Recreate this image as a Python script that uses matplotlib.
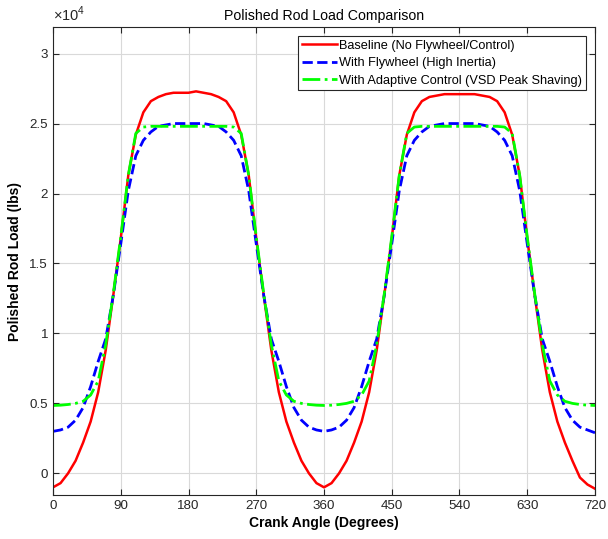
import numpy as np
import matplotlib.pyplot as plt
from matplotlib.ticker import FuncFormatter, MultipleLocator

plt.rcParams['font.family'] = ['Liberation Sans', 'DejaVu Sans']
plt.rcParams['mathtext.fontset'] = 'custom'
plt.rcParams['mathtext.rm'] = 'Liberation Sans'

# crank angle, degrees (10 deg steps over two strokes)
angle = np.arange(0, 721, 10)

# polished rod load, lbs
baseline = [-1000, -700, 0, 900, 2200, 3700, 5800, 8800, 12700, 16800,        # 0-90
            21300, 24200, 25800, 26600, 26900, 27100, 27200, 27200, 27200,    # 100-180
            27300, 27200, 27100, 26900, 26600, 25800, 24200, 21300, 16800,    # 190-270
            12700, 8800, 5800, 3700, 2200, 900, 0, -700, -1000,               # 280-360
            -700, 0, 900, 2200, 3700, 5800, 8800, 12700, 16800,               # 370-450
            21300, 24200, 25800, 26600, 26900, 27000, 27100, 27100, 27100,    # 460-540
            27100, 27100, 27000, 26900, 26600, 25800, 24200, 21300, 16800,    # 550-630
            12700, 8800, 5800, 3700, 2200, 900, -300, -800, -1100]            # 640-720

flywheel = [3000, 3100, 3300, 3800, 4700, 6200, 8000, 9600, 12700, 16400,
            20200, 22700, 23800, 24400, 24800, 24900, 25000, 25000, 25000,
            25000, 25000, 24900, 24800, 24400, 23800, 22700, 20200, 16400,
            12700, 9600, 8000, 6200, 4700, 3800, 3300, 3100, 3000,
            3100, 3300, 3800, 4700, 6200, 8000, 9600, 12700, 16400,
            20200, 22700, 23800, 24400, 24800, 24900, 25000, 25000, 25000,
            25000, 25000, 24900, 24800, 24400, 23800, 22700, 20200, 16400,
            12700, 9600, 8000, 6200, 4700, 3800, 3300, 3100, 2900]

adaptive = [4850, 4870, 4920, 5000, 5150, 5600, 6600, 9200, 12800, 16900,
            21300, 24300, 24750, 24800, 24800, 24800, 24800, 24800, 24800,
            24800, 24800, 24800, 24800, 24800, 24750, 24300, 21300, 16900,
            12800, 9200, 6600, 5600, 5150, 5000, 4920, 4870, 4850,
            4870, 4920, 5000, 5150, 5600, 6600, 9200, 12800, 16900,
            21300, 24300, 24750, 24800, 24800, 24800, 24800, 24800, 24800,
            24800, 24800, 24800, 24800, 24800, 24750, 24300, 21300, 16900,
            12800, 9200, 6600, 5600, 5150, 5000, 4920, 4870, 4850]

labels = ['Baseline (No Flywheel/Control)',
          'With Flywheel (High Inertia)',
          'With Adaptive Control (VSD Peak Shaving)']

fig = plt.figure(figsize=(6.08, 5.39), dpi=100)
ax = fig.add_axes([0.0872, 0.0816, 0.8914, 0.8683])

ax.plot(angle, baseline, color=(1, 0, 0), lw=1.8, label=labels[0])
ax.plot(angle, flywheel, color=(0, 0, 1), lw=2, ls='--', label=labels[1])
ax.plot(angle, adaptive, color=(0, 1, 0), lw=2, ls='-.', label=labels[2])

ax.set_xlim(0, 720)
ax.set_ylim(-1550, 31900)
ax.xaxis.set_major_locator(MultipleLocator(90))
ax.yaxis.set_major_locator(MultipleLocator(5000))
ax.yaxis.set_major_formatter(FuncFormatter(lambda v, p: '%g' % (v / 1e4)))

ax.grid(True, color=(0.85, 0.85, 0.85), lw=0.8)
ax.set_axisbelow(True)
ax.tick_params(direction='in', top=True, right=True, labelsize=9.6,
               colors=(0.15, 0.15, 0.15), length=4)
for s in ax.spines.values():
    s.set_color((0.15, 0.15, 0.15))
    s.set_linewidth(0.8)

ax.text(0, 1.006, r'$\times10^{4}$', transform=ax.transAxes, fontsize=10.5,
        color=(0.15, 0.15, 0.15), va='bottom', ha='left')
ax.set_title('Polished Rod Load Comparison', fontsize=10.2, pad=5)
ax.set_xlabel('Crank Angle (Degrees)', fontsize=10, fontweight='bold', labelpad=3)
ax.set_ylabel('Polished Rod Load (lbs)', fontsize=10, fontweight='bold', labelpad=5)

leg = ax.legend(loc='upper right', fontsize=9.2, fancybox=False, framealpha=1,
                edgecolor=(0.15, 0.15, 0.15), borderpad=0.3, labelspacing=0.42,
                handlelength=2.7, handletextpad=0.2, borderaxespad=0.7)
leg.get_frame().set_linewidth(0.8)

plt.savefig('out.png', dpi=100)
